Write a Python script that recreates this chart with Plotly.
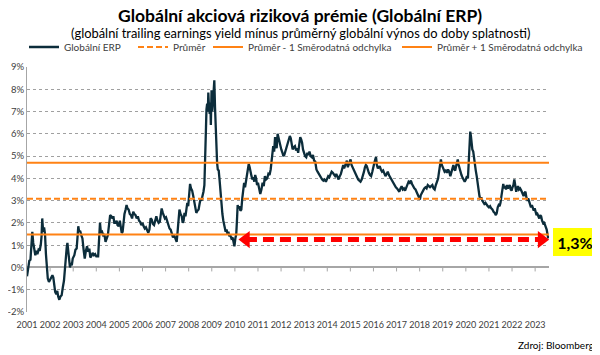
import plotly.graph_objects as go

# ---------------- data ----------------
erp_years = [
    2001.00, 2001.05, 2001.10, 2001.15, 2001.20, 2001.23, 2001.27, 2001.32, 2001.36, 2001.40,
    2001.45, 2001.50, 2001.55, 2001.60, 2001.63, 2001.66, 2001.70, 2001.74, 2001.78, 2001.82,
    2001.86, 2001.90, 2001.95, 2002.00, 2002.05, 2002.10, 2002.14, 2002.18, 2002.22, 2002.27,
    2002.31, 2002.35, 2002.40, 2002.45, 2002.50, 2002.55, 2002.60, 2002.64, 2002.68, 2002.72,
    2002.75, 2002.79, 2002.83, 2002.86, 2002.90, 2002.94, 2002.98, 2003.05, 2003.10, 2003.15,
    2003.19, 2003.22, 2003.26, 2003.30, 2003.35, 2003.40, 2003.45, 2003.50, 2003.55, 2003.60,
    2003.65, 2003.70, 2003.74, 2003.78, 2003.84, 2003.90, 2003.95, 2004.00, 2004.08, 2004.12,
    2004.16, 2004.20, 2004.25, 2004.30, 2004.35, 2004.40, 2004.45, 2004.50, 2004.55, 2004.60,
    2004.65, 2004.70, 2004.74, 2004.78, 2004.83, 2004.88, 2004.92, 2004.97, 2005.02, 2005.06,
    2005.10, 2005.14, 2005.18, 2005.22, 2005.27, 2005.31, 2005.35, 2005.40, 2005.45, 2005.50,
    2005.55, 2005.60, 2005.65, 2005.70, 2005.75, 2005.80, 2005.85, 2005.90, 2005.95, 2006.00,
    2006.05, 2006.10, 2006.15, 2006.20, 2006.25, 2006.30, 2006.35, 2006.40, 2006.45, 2006.50,
    2006.55, 2006.60, 2006.65, 2006.70, 2006.75, 2006.80, 2006.83, 2006.88, 2006.93, 2006.97,
    2007.02, 2007.07, 2007.12, 2007.17, 2007.22, 2007.27, 2007.32, 2007.37, 2007.42, 2007.48,
    2007.52, 2007.56, 2007.60, 2007.65, 2007.70, 2007.74, 2007.78, 2007.82, 2007.86, 2007.90,
    2007.94, 2007.98, 2008.02, 2008.06, 2008.10, 2008.15, 2008.20, 2008.24, 2008.28, 2008.33,
    2008.38, 2008.43, 2008.47, 2008.51, 2008.55, 2008.60, 2008.64, 2008.68, 2008.71, 2008.73,
    2008.75, 2008.77, 2008.80, 2008.83, 2008.85, 2008.88, 2008.91, 2008.94, 2008.96, 2008.99,
    2009.02, 2009.05, 2009.08, 2009.11, 2009.14, 2009.17, 2009.20, 2009.23, 2009.26, 2009.30,
    2009.34, 2009.38, 2009.42, 2009.46, 2009.50, 2009.55, 2009.60, 2009.64, 2009.68, 2009.72,
    2009.76, 2009.80, 2009.85, 2009.90, 2009.94, 2009.98, 2010.02, 2010.06, 2010.09, 2010.12,
    2010.16, 2010.20, 2010.24, 2010.28, 2010.32, 2010.36, 2010.40, 2010.44, 2010.48, 2010.52,
    2010.56, 2010.60, 2010.64, 2010.68, 2010.72, 2010.76, 2010.80, 2010.84, 2010.88, 2010.92,
    2010.96, 2011.00, 2011.05, 2011.10, 2011.15, 2011.20, 2011.25, 2011.30, 2011.35, 2011.40,
    2011.45, 2011.50, 2011.55, 2011.59, 2011.63, 2011.66, 2011.70, 2011.74, 2011.78, 2011.81,
    2011.85, 2011.89, 2011.93, 2011.97, 2012.01, 2012.06, 2012.10, 2012.14, 2012.19, 2012.24,
    2012.29, 2012.34, 2012.38, 2012.42, 2012.46, 2012.50, 2012.55, 2012.60, 2012.65, 2012.70,
    2012.74, 2012.79, 2012.83, 2012.87, 2012.91, 2012.95, 2012.99, 2013.04, 2013.09, 2013.14,
    2013.19, 2013.23, 2013.28, 2013.33, 2013.38, 2013.43, 2013.48, 2013.53, 2013.58, 2013.63,
    2013.68, 2013.73, 2013.78, 2013.83, 2013.88, 2013.94, 2013.99, 2014.04, 2014.09, 2014.14,
    2014.19, 2014.24, 2014.29, 2014.34, 2014.39, 2014.44, 2014.49, 2014.54, 2014.59, 2014.64,
    2014.69, 2014.73, 2014.77, 2014.81, 2014.85, 2014.89, 2014.93, 2014.97, 2015.01, 2015.05,
    2015.09, 2015.14, 2015.19, 2015.24, 2015.29, 2015.34, 2015.39, 2015.44, 2015.49, 2015.54,
    2015.59, 2015.63, 2015.67, 2015.71, 2015.75, 2015.80, 2015.85, 2015.90, 2015.95, 2016.00,
    2016.04, 2016.08, 2016.11, 2016.15, 2016.19, 2016.23, 2016.27, 2016.32, 2016.37, 2016.42,
    2016.47, 2016.52, 2016.57, 2016.62, 2016.67, 2016.72, 2016.77, 2016.82, 2016.87, 2016.92,
    2016.97, 2017.02, 2017.07, 2017.12, 2017.17, 2017.22, 2017.27, 2017.32, 2017.37, 2017.42,
    2017.47, 2017.52, 2017.57, 2017.62, 2017.67, 2017.72, 2017.77, 2017.82, 2017.87, 2017.92,
    2017.97, 2018.01, 2018.05, 2018.10, 2018.15, 2018.20, 2018.25, 2018.30, 2018.35, 2018.40,
    2018.45, 2018.50, 2018.55, 2018.60, 2018.65, 2018.70, 2018.75, 2018.80, 2018.84, 2018.88,
    2018.92, 2018.96, 2019.00, 2019.04, 2019.08, 2019.13, 2019.18, 2019.23, 2019.28, 2019.33,
    2019.38, 2019.42, 2019.46, 2019.50, 2019.54, 2019.58, 2019.62, 2019.65, 2019.69, 2019.73,
    2019.77, 2019.81, 2019.85, 2019.90, 2019.95, 2020.00, 2020.05, 2020.09, 2020.12, 2020.15,
    2020.17, 2020.19, 2020.22, 2020.25, 2020.28, 2020.32, 2020.35, 2020.39, 2020.43, 2020.47,
    2020.51, 2020.55, 2020.59, 2020.63, 2020.67, 2020.71, 2020.75, 2020.80, 2020.85, 2020.90,
    2020.95, 2021.00, 2021.05, 2021.10, 2021.15, 2021.20, 2021.25, 2021.30, 2021.34, 2021.38,
    2021.42, 2021.46, 2021.50, 2021.54, 2021.58, 2021.62, 2021.66, 2021.70, 2021.74, 2021.78,
    2021.82, 2021.86, 2021.90, 2021.94, 2021.98, 2022.02, 2022.06, 2022.10, 2022.14, 2022.18,
    2022.22, 2022.26, 2022.30, 2022.35, 2022.40, 2022.45, 2022.50, 2022.54, 2022.58, 2022.62,
    2022.66, 2022.70, 2022.74, 2022.78, 2022.82, 2022.86, 2022.90, 2022.94, 2022.98, 2023.02,
    2023.06, 2023.10, 2023.14, 2023.18, 2023.22, 2023.26, 2023.30, 2023.34, 2023.38, 2023.42,
    2023.46, 2023.50, 2023.54, 2023.57,
]
erp_values = [
    -0.40, -0.10, 0.30, 0.35, 1.20, 1.60, 1.10, 0.80, 0.55, 0.75,
    0.60, 0.80, 0.75, 1.05, 1.40, 2.20, 1.60, 1.80, 1.50, 0.60,
    -0.30, -0.50, -0.65, -0.55, -0.40, -0.35, -0.45, -0.80, -1.10, -1.20,
    -1.05, -1.30, -1.45, -1.30, -1.25, -0.90, -0.60, -0.10, 0.60, 0.90,
    1.10, 0.70, 0.55, 0.00, 0.20, 0.10, 0.40, 0.55, 0.80, 0.85,
    1.40, 1.85, 1.60, 1.65, 1.45, 1.30, 0.80, 0.40, 0.75, 0.95,
    0.70, 0.85, 0.45, 0.50, 0.65, 0.55, 0.60, 0.50, 0.50, 1.20,
    2.00, 1.55, 1.60, 1.45, 1.50, 1.15, 1.35, 1.45, 1.90, 2.35,
    2.30, 2.20, 2.30, 2.00, 2.00, 2.10, 1.90, 1.85, 2.10, 1.80,
    1.55, 1.60, 2.20, 2.40, 2.60, 2.80, 2.65, 2.60, 2.40, 2.35,
    2.20, 2.50, 2.40, 2.35, 2.20, 2.30, 2.10, 2.05, 1.90, 2.00,
    1.85, 1.75, 1.80, 1.65, 1.55, 1.70, 2.20, 2.15, 1.95, 1.90,
    2.15, 2.30, 2.10, 2.00, 2.05, 2.40, 2.65, 2.45, 2.35, 2.20,
    2.25, 2.05, 1.95, 1.75, 1.70, 1.45, 1.35, 1.45, 1.30, 1.15,
    1.60, 2.20, 2.60, 2.40, 2.30, 2.00, 2.10, 2.45, 2.30, 2.60,
    2.90, 2.75, 3.30, 3.75, 3.55, 3.45, 3.20, 2.90, 2.75, 2.45,
    2.55, 2.60, 2.85, 3.05, 3.00, 3.20, 3.40, 3.70, 4.50, 5.50,
    6.30, 7.10, 7.35, 7.00, 7.85, 7.20, 6.90, 7.40, 6.40, 7.95,
    7.00, 7.40, 8.10, 8.40, 7.20, 6.20, 5.40, 4.70, 4.40, 4.35,
    3.90, 3.30, 2.80, 2.40, 2.10, 1.80, 1.60, 1.70, 1.50, 1.60,
    1.40, 1.45, 1.30, 1.35, 1.10, 0.95, 1.30, 1.50, 2.10, 2.80,
    2.65, 2.75, 2.55, 2.60, 3.10, 3.50, 3.80, 3.60, 3.90, 4.20,
    4.30, 4.65, 4.50, 4.20, 4.10, 3.95, 4.05, 3.85, 4.15, 4.00,
    3.70, 3.80, 3.55, 3.30, 3.50, 3.80, 3.65, 4.10, 3.95, 4.00,
    4.20, 4.15, 4.40, 4.75, 5.20, 5.45, 5.20, 5.85, 5.50, 5.35,
    6.00, 5.80, 5.55, 5.40, 5.30, 5.15, 5.00, 5.05, 5.25, 5.40,
    5.60, 5.80, 5.90, 5.80, 5.50, 5.30, 5.40, 5.45, 5.25, 5.35,
    5.15, 5.50, 5.85, 5.75, 5.60, 5.30, 5.10, 5.00, 4.95, 5.15,
    5.05, 5.20, 5.00, 4.95, 5.05, 4.80, 4.75, 4.40, 4.30, 4.20,
    4.10, 4.05, 3.95, 3.90, 3.95, 3.85, 4.00, 4.10, 4.05, 4.20,
    4.30, 4.25, 4.15, 4.10, 4.20, 4.05, 3.95, 4.10, 4.20, 4.40,
    4.60, 4.45, 4.55, 4.70, 4.80, 4.50, 4.60, 4.75, 4.85, 4.60,
    4.50, 4.40, 4.25, 4.15, 4.05, 3.95, 3.90, 3.85, 3.95, 4.10,
    4.30, 4.50, 4.60, 4.55, 4.35, 4.25, 4.15, 4.10, 4.30, 4.60,
    4.70, 4.85, 4.95, 4.60, 4.45, 4.50, 4.55, 4.40, 4.30, 4.35,
    4.20, 4.10, 4.20, 4.30, 4.15, 4.05, 3.95, 3.85, 3.75, 3.65,
    3.60, 3.55, 3.45, 3.40, 3.55, 3.65, 3.50, 3.55, 3.45, 3.60,
    3.75, 3.85, 3.80, 3.90, 3.75, 3.60, 3.55, 3.50, 3.40, 3.30,
    3.15, 3.05, 3.25, 3.40, 3.45, 3.55, 3.60, 3.55, 3.70, 3.65,
    3.60, 3.65, 3.70, 3.55, 3.50, 3.70, 3.85, 4.00, 4.30, 4.55,
    4.85, 4.60, 4.50, 4.40, 4.30, 4.35, 4.25, 4.40, 4.30, 4.10,
    4.30, 4.50, 4.60, 4.40, 4.35, 4.55, 4.70, 4.85, 4.60, 4.40,
    4.30, 4.15, 4.05, 3.95, 3.85, 3.95, 4.10, 4.00, 4.60, 5.30,
    5.80, 6.10, 5.90, 5.55, 5.30, 5.20, 4.90, 4.50, 4.35, 4.10,
    3.80, 3.40, 3.20, 3.05, 3.15, 3.00, 2.95, 2.85, 2.90, 2.80,
    2.75, 2.70, 2.75, 2.65, 2.60, 2.50, 2.45, 2.35, 2.45, 2.70,
    2.80, 2.75, 2.90, 3.20, 3.45, 3.75, 3.55, 3.65, 3.50, 3.70,
    3.55, 3.60, 3.70, 3.50, 3.45, 3.60, 3.70, 3.95, 3.55, 3.40,
    3.55, 3.65, 3.50, 3.55, 3.45, 3.35, 3.20, 3.35, 3.40, 3.15,
    3.05, 3.10, 2.95, 2.80, 2.70, 2.80, 2.60, 2.55, 2.65, 2.50,
    2.35, 2.40, 2.25, 2.20, 2.35, 2.30, 2.10, 2.00, 2.05, 1.95,
    1.80, 1.70, 1.45, 1.30,
]

mean_value = 3.08        # Průměr
lower_value = 1.48       # Průměr - 1 Směrodatná odchylka
upper_value = 4.70       # Průměr + 1 Směrodatná odchylka
x_range = [2001.0, 2023.6]

arrow_years = [2010.48, 2023.28]
arrow_level = 1.25
last_label = "1,3%"

tick_years = list(range(2001, 2024))
tick_labels = [str(y) for y in tick_years]
y_ticks = list(range(-2, 10))
y_tick_labels = [f"{v}%" for v in y_ticks]

series_names = [
    "Globální ERP",
    "Průměr",
    "Průměr - 1 Směrodatná odchylka",
    "Průměr + 1 Směrodatná odchylka",
]
title_text = "Globální akciová riziková prémie (Globální ERP)"
subtitle_text = "(globální trailing earnings yield mínus průměrný globální výnos do doby splatnosti)"
source_text = "Zdroj: Bloomberg"

# ---------------- figure ----------------
FONT = "Lato"
OFF = 8                      # page body margin offset of the rendered figure
W, H = 600 - OFF, 355 - OFF  # figure size so it fits the 600x355 window
# target positions are in window pixels; convert to figure pixels
ML = 27 - OFF
MT = 67 - OFF
PW, PH = 522, 245
MR = W - ML - PW
MB = H - MT - PH


def px_x(px):
    return (px - OFF - ML) / PW


def px_y(py):
    return (MT + PH - (py - OFF)) / PH


orange = "#ff8214"
navy = "#0c2d3b"
grey_txt = "#404040"

fig = go.Figure()

fig.add_trace(go.Scatter(
    x=erp_years, y=erp_values, mode="lines", name=series_names[0],
    line=dict(color=navy, width=2.3), legend="legend",
))
fig.add_trace(go.Scatter(
    x=x_range, y=[mean_value, mean_value], mode="lines", name=series_names[1],
    line=dict(color=orange, width=2, dash="6px,3px"), legend="legend2",
))
fig.add_trace(go.Scatter(
    x=x_range, y=[lower_value, lower_value], mode="lines", name=series_names[2],
    line=dict(color=orange, width=2), legend="legend3",
))
fig.add_trace(go.Scatter(
    x=x_range, y=[upper_value, upper_value], mode="lines", name=series_names[3],
    line=dict(color=orange, width=2), legend="legend4",
))
# red double-headed dashed arrow
fig.add_trace(go.Scatter(
    x=arrow_years, y=[arrow_level, arrow_level], mode="lines+markers",
    showlegend=False, hoverinfo="skip",
    line=dict(color="#ff0000", width=5, dash="11px,6px"),
    marker=dict(symbol=["triangle-left", "triangle-right"], size=15,
                color="#ff0000", line=dict(width=0)),
))

# small tick marks on the 0% axis line
for yr in tick_years[1:]:
    fig.add_shape(type="line", xref="x", yref="y", x0=yr, x1=yr,
                  ysizemode="pixel", yanchor=0, y0=0, y1=-4,
                  line=dict(color="#a6a6a6", width=1), layer="below")

legend_text_starts = [64, 173, 248, 437]   # window pixels


def legend_cfg(text_px):
    return dict(
        orientation="h", xref="container", yref="container",
        x=(text_px - OFF - 40) / W, xanchor="left",
        y=1 - (47 - OFF) / H, yanchor="middle",
        font=dict(family=FONT, size=10, color=grey_txt),
        itemwidth=30, bgcolor="rgba(0,0,0,0)", borderwidth=0,
    )


fig.update_layout(
    width=W, height=H,
    margin=dict(l=ML, r=MR, t=MT, b=MB, pad=0, autoexpand=False),
    paper_bgcolor="white", plot_bgcolor="white",
    font=dict(family=FONT, size=10, color=grey_txt),
    showlegend=True,
    legend=legend_cfg(legend_text_starts[0]),
    legend2=legend_cfg(legend_text_starts[1]),
    legend3=legend_cfg(legend_text_starts[2]),
    legend4=legend_cfg(legend_text_starts[3]),
    xaxis=dict(
        range=x_range, tickmode="array", tickvals=tick_years, ticktext=tick_labels,
        showgrid=False, zeroline=False, showline=False, automargin=False,
        ticks="outside", ticklen=4, tickcolor="rgba(0,0,0,0)", tickangle=0,
        tickfont=dict(family=FONT, size=9, color=grey_txt),
    ),
    yaxis=dict(
        range=[-2, 9], tickmode="array", tickvals=y_ticks, ticktext=y_tick_labels,
        showgrid=True, gridcolor="#a0a0a0", griddash="dot", gridwidth=1,
        zeroline=True, zerolinecolor="#a6a6a6", zerolinewidth=1.5,
        showline=True, linecolor="#a6a6a6", linewidth=1, automargin=False,
        ticks="", tickfont=dict(family=FONT, size=9.5, color=grey_txt),
    ),
    annotations=[
        dict(text=f"<b>{title_text}</b>", xref="paper", yref="paper",
             x=px_x(300), y=px_y(16), xanchor="center", yanchor="middle",
             showarrow=False, font=dict(family=FONT, size=17.5, color="#000000")),
        dict(text=subtitle_text, xref="paper", yref="paper",
             x=px_x(300), y=px_y(33), xanchor="center", yanchor="middle",
             showarrow=False, font=dict(family=FONT, size=12.9, color="#000000")),
        dict(text=source_text, xref="paper", yref="paper",
             x=px_x(596), y=px_y(345), xanchor="right", yanchor="middle",
             showarrow=False, font=dict(family=FONT, size=10, color="#000000")),
        dict(text=f"<b>{last_label}</b>", xref="paper", yref="paper",
             x=px_x(575), y=px_y(241.5), xanchor="center", yanchor="middle",
             showarrow=False, width=44, height=28, bgcolor="#ffff00",
             borderpad=0, borderwidth=0,
             font=dict(family=FONT, size=16, color="#000000")),
    ],
)

fig.write_html("out.html")
